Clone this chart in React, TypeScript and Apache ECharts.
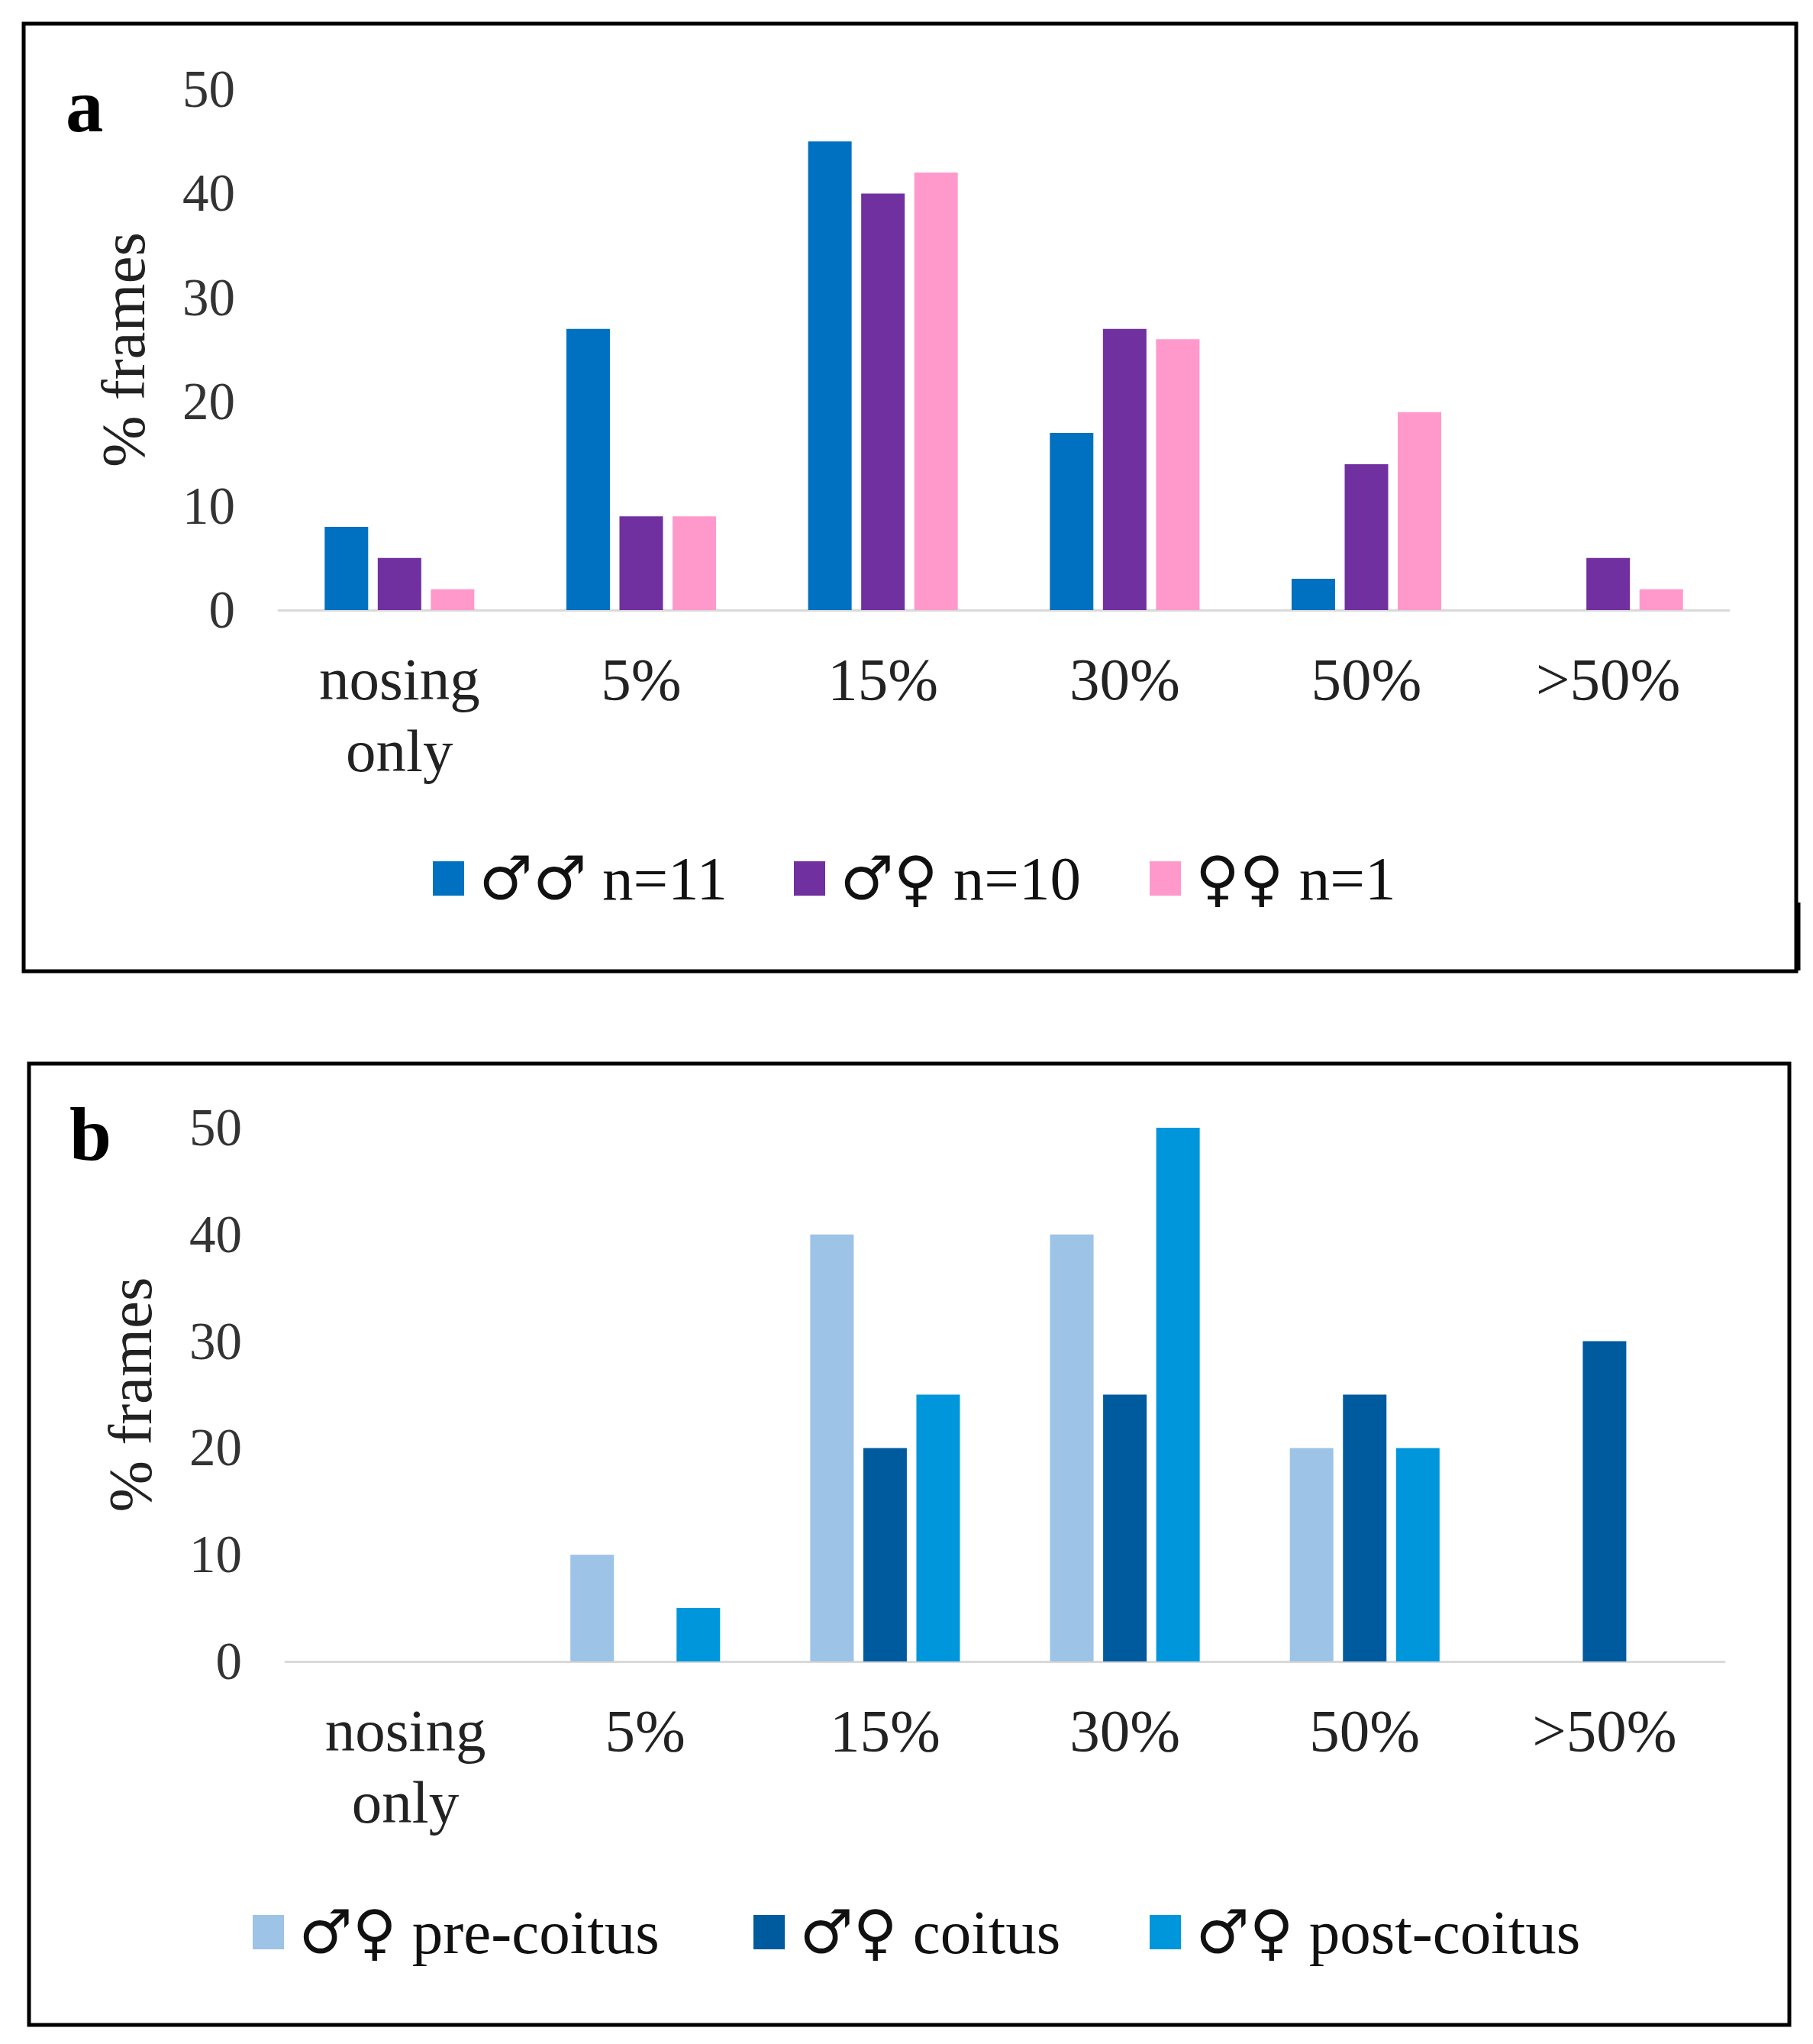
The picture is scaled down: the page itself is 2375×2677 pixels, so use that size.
import React, { useEffect, useRef } from "react";
import * as echarts from "echarts";

const categories = ["nosing\nonly", "5%", "15%", "30%", "50%", ">50%"];

const seriesNamesA = ["♂♂ n=11", "♂♀ n=10", "♀♀ n=1"];
const maleMale = [8, 27, 45, 17, 3, 0];
const maleFemale = [5, 9, 40, 27, 14, 5];
const femaleFemale = [2, 9, 42, 26, 19, 2];

const seriesNamesB = ["♂♀ pre-coitus", "♂♀ coitus", "♂♀ post-coitus"];
const preCoitus = [0, 10, 40, 40, 20, 0];
const coitus = [0, 0, 20, 25, 25, 30];
const postCoitus = [0, 5, 25, 50, 20, 0];

const yTicks = { min: 0, max: 50, interval: 10 };

const colorsA = ["#0070C0", "#7030A0", "#FF99CC"];
const colorsB = ["#9DC3E6", "#005A9E", "#0096DB"];

const W = 2375;
const H = 2677;
const S = W / 1386;
const p = (v: number) => Math.round(v * S);
const FONT = "'Liberation Serif', 'DejaVu Serif', serif";

export default function App() {
  const ref = useRef<HTMLDivElement>(null);
  useEffect(() => {
    if (!ref.current) return;
    const chart = echarts.init(ref.current, null, { renderer: "svg" });

    const xAxisBase = (gridIndex: number) => ({
      type: "category" as const,
      gridIndex,
      data: categories,
      axisTick: { show: false },
      axisLine: { lineStyle: { color: "#D9D9D9", width: p(2) } },
      axisLabel: {
        fontFamily: FONT,
        fontSize: p(46),
        lineHeight: p(55),
        color: "#222",
        margin: p(25),
        interval: 0,
      },
    });
    const yAxisBase = (gridIndex: number) => ({
      type: "value" as const,
      gridIndex,
      min: yTicks.min,
      max: yTicks.max,
      interval: yTicks.interval,
      splitLine: { show: false },
      axisLine: { show: false },
      axisTick: { show: false },
      axisLabel: {
        fontFamily: FONT,
        fontSize: p(40),
        color: "#333",
        margin: p(33),
      },
      name: "% frames",
      nameLocation: "middle" as const,
      nameGap: p(95),
      nameTextStyle: { fontFamily: FONT, fontSize: p(47), color: "#222" },
    });

    const barsA = [maleMale, maleFemale, femaleFemale].map((d, i) => ({
      type: "bar" as const,
      name: seriesNamesA[i],
      xAxisIndex: 0,
      yAxisIndex: 0,
      data: d,
      barWidth: p(33),
      barGap: "22%",
      itemStyle: { color: colorsA[i] },
    }));
    const barsB = [preCoitus, coitus, postCoitus].map((d, i) => ({
      type: "bar" as const,
      name: seriesNamesB[i],
      xAxisIndex: 1,
      yAxisIndex: 1,
      data: d,
      barWidth: p(33),
      barGap: "22%",
      itemStyle: { color: colorsB[i] },
    }));

    const legendItem = (name: string, left: number, top: number) => ({
      data: [name],
      left: p(left),
      top: p(top),
      orient: "horizontal" as const,
      itemWidth: p(24),
      itemHeight: p(26),
      icon: "rect",
      selectedMode: false,
      formatter: (n: string) => {
        const sym = n.split(" ")[0];
        const rest = n.slice(sym.length);
        return `{s|${sym}}{t|${rest}}`;
      },
      textStyle: {
        fontFamily: FONT,
        fontSize: p(47),
        color: "#111",
        padding: [0, 0, 0, p(8)],
        rich: {
          s: {
            fontFamily: "'DejaVu Serif', 'DejaVu Sans', serif",
            fontSize: p(46),
            color: "#111",
          },
          t: { fontFamily: FONT, fontSize: p(47), color: "#111" },
        },
      },
    });

    chart.setOption({
      animation: false,
      backgroundColor: "#ffffff",
      grid: [
        { left: p(213), top: p(68), width: p(1109), height: p(398) },
        { left: p(218), top: p(862), width: p(1100), height: p(408) },
      ],
      xAxis: [xAxisBase(0), xAxisBase(1)],
      yAxis: [yAxisBase(0), yAxisBase(1)],
      legend: [
        legendItem(seriesNamesA[0], 328, 645),
        legendItem(seriesNamesA[1], 604, 645),
        legendItem(seriesNamesA[2], 876, 645),
        legendItem(seriesNamesB[0], 190, 1450),
        legendItem(seriesNamesB[1], 573, 1450),
        legendItem(seriesNamesB[2], 876, 1450),
      ],
      series: [...barsA, ...barsB],
      graphic: [
        {
          type: "rect",
          shape: { x: p(18), y: p(18), width: p(1355), height: p(724) },
          style: { fill: "none", stroke: "#000", lineWidth: p(3) },
          silent: true,
        },
        {
          type: "line",
          shape: { x1: p(1375), y1: p(690), x2: p(1375), y2: p(742) },
          style: { stroke: "#000", lineWidth: p(3) },
          silent: true,
        },
        {
          type: "rect",
          shape: { x: p(22), y: p(813), width: p(1346), height: p(735) },
          style: { fill: "none", stroke: "#000", lineWidth: p(3) },
          silent: true,
        },
        {
          type: "text",
          x: p(50),
          y: p(52),
          style: {
            text: "a",
            fontFamily: FONT,
            fontWeight: "bold",
            fontSize: p(58),
            fill: "#000",
          },
        },
        {
          type: "text",
          x: p(53),
          y: p(838),
          style: {
            text: "b",
            fontFamily: FONT,
            fontWeight: "bold",
            fontSize: p(58),
            fill: "#000",
          },
        },
      ],
    });
    return () => chart.dispose();
  }, []);
  return (
    <div
      ref={ref}
      style={{ position: "absolute", left: 0, top: 0, width: W, height: H, background: "#fff" }}
    />
  );
}
